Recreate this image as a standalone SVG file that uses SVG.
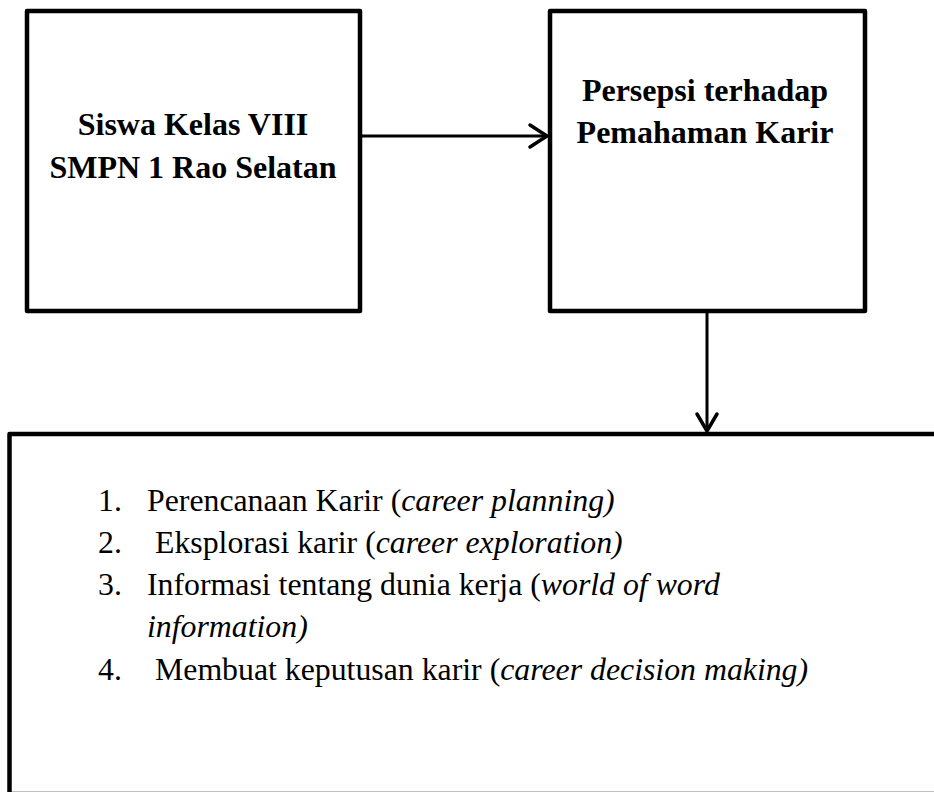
<svg xmlns="http://www.w3.org/2000/svg" width="934" height="792" viewBox="0 0 934 792">
<style>
.box{fill:#fff;stroke:#000;stroke-width:4.5;stroke-linejoin:round}
.conn{fill:none;stroke:#000;stroke-width:3}
.head{fill:none;stroke:#000;stroke-width:3.5;stroke-linecap:round;stroke-linejoin:miter}
.bold{font-family:"Liberation Serif","Times New Roman",serif;font-weight:bold;font-size:32px;fill:#000;text-anchor:middle}
.list{font-family:"Liberation Serif","Times New Roman",serif;font-size:31.8px;fill:#000}
.it{font-style:italic}
</style>
<rect width="934" height="792" fill="#fff"/>
<g id="node-siswa">
<rect class="box" x="27" y="11" width="333" height="300"/>
<text class="bold" x="193" y="135">Siswa Kelas VIII</text>
<text class="bold" x="193" y="178">SMPN 1 Rao Selatan</text>
</g>
<g id="node-persepsi">
<rect class="box" x="550" y="11" width="315" height="300"/>
<text class="bold" x="705" y="101">Persepsi terhadap</text>
<text class="bold" x="705" y="143">Pemahaman Karir</text>
</g>
<g id="node-aspek">
<rect class="box" x="9.5" y="434" width="940" height="360"/>
<text class="list" y="511"><tspan x="98">1.</tspan><tspan x="147">Perencanaan Karir (</tspan><tspan class="it">career planning)</tspan></text>
<text class="list" y="553"><tspan x="98">2.</tspan><tspan x="155">Eksplorasi karir (</tspan><tspan class="it">career exploration)</tspan></text>
<text class="list" y="595"><tspan x="98">3.</tspan><tspan x="147">Informasi tentang dunia kerja (</tspan><tspan class="it">world of word</tspan></text>
<text class="list it" x="147" y="637">information)</text>
<text class="list" y="680"><tspan x="98">4.</tspan><tspan x="155">Membuat keputusan karir (</tspan><tspan class="it">career decision making)</tspan></text>
</g>
<g id="connectors">
<line class="conn" x1="362" y1="136" x2="547" y2="136"/>
<polyline class="head" points="530,125 547,136 530,147"/>
<line class="conn" x1="707" y1="313" x2="707" y2="431"/>
<polyline class="head" points="697,414 707,431 717,414"/>
</g>
</svg>
